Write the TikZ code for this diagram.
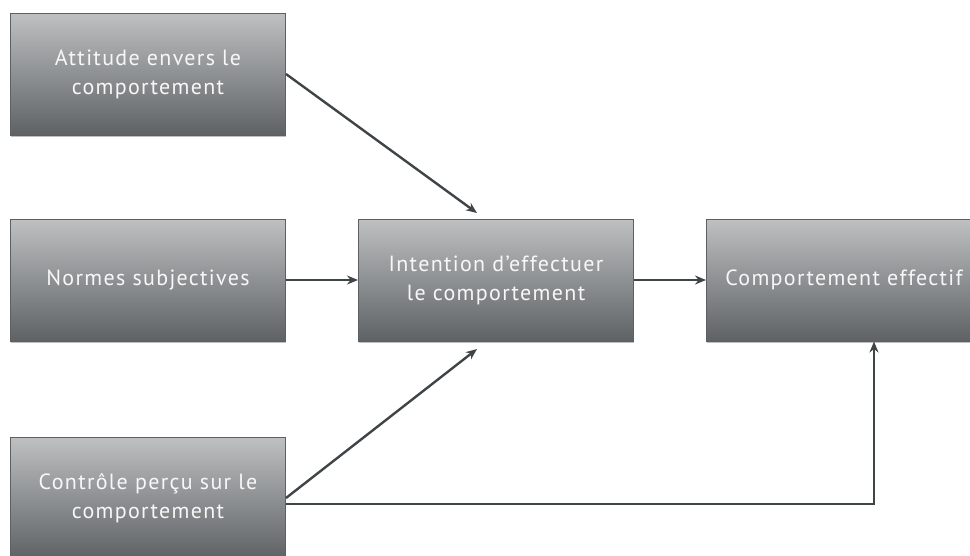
\documentclass[tikz,border=0pt]{standalone}
\usepackage{fontspec}
\setmainfont[LetterSpace=6]{PT Sans}
\usetikzlibrary{arrows.meta,shadows}
\definecolor{boxtop}{HTML}{BEC0C1}
\definecolor{boxbot}{HTML}{5E6264}
\definecolor{boxline}{HTML}{5C6063}
\definecolor{arrowc}{HTML}{3F4447}
\begin{document}
\begin{tikzpicture}[x=1pt,y=-1pt,
  box/.style={draw=boxline, line width=1pt, top color=boxtop, bottom color=boxbot,
    minimum width=275pt, minimum height=122pt, inner sep=0pt, align=center,
    text=white!94!gray, font=\fontsize{22}{29}\selectfont,
    drop shadow={shadow xshift=0pt, shadow yshift=-2pt, opacity=0.25, fill=black}},
  conn/.style={draw=arrowc, line width=2.4pt, -{Stealth[length=11pt,width=9pt]}}]
\useasboundingbox (0,0) rectangle (970,555);
\clip (0,0) rectangle (970,555);
\node[box] (att) at (148,74) {Attitude envers le\\comportement};
\node[box] (nor) at (148,280) {Normes subjectives};
\node[box] (ctl) at (148,498) {Contrôle perçu sur le\\comportement};
\node[box] (int) at (496,280) {Intention d’effectuer\\le comportement};
\node[box] (eff) at (844,280) {Comportement effectif};
\coordinate (t1) at (477,213);
\coordinate (t3) at (477,349);
\coordinate (c5) at (286,504);
\coordinate (k5) at (874,504);
\draw[conn] (att.east) -- (t1);
\draw[conn] (nor.east) -- (int.west);
\draw[conn] (ctl.east) -- (t3);
\draw[conn] (int.east) -- (eff.west);
\draw[conn] (c5) -- (k5) -- (k5 |- eff.south);
\end{tikzpicture}
\end{document}
